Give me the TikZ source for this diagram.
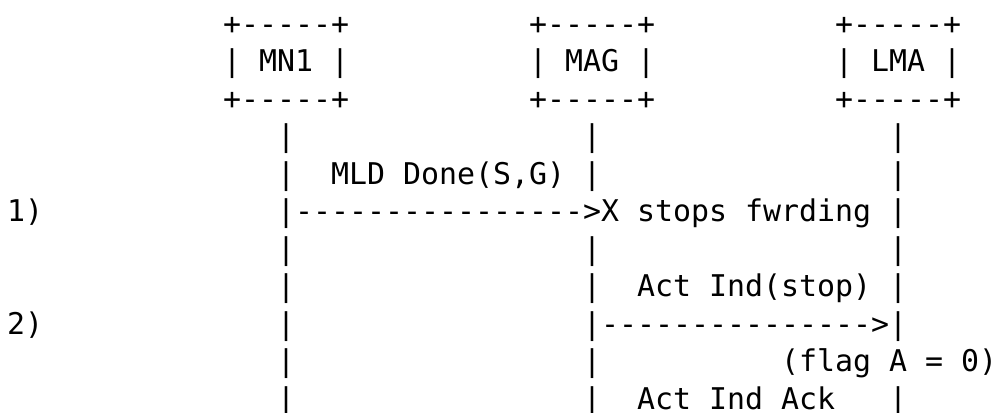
\documentclass[tikz,border=0pt]{standalone}
\usepackage{fontspec}
\setmonofont{DejaVu Sans Mono}
\usetikzlibrary{positioning}

\begin{document}
\begin{tikzpicture}[
        x=13.5pt,
        y=-28.125pt,
        ascii/.style={
            anchor=base west,
            inner sep=0pt,
            outer sep=0pt,
            font=\ttfamily\fontsize{22.43}{28.125}\selectfont
        },
        entity/.style={ascii},
        lifeline/.style={ascii},
        message/.style={ascii}
    ]
    \useasboundingbox (-0.389,-0.92) rectangle (55,10.093);

    % Entities at the top
    \node[entity] (mn1top) at (12,0) {+-----+};
    \node[entity] (mn1) at (12,1) {| MN1 |};
    \node[entity] (mn1bot) at (12,2) {+-----+};
    \node[entity] (magtop) at (29,0) {+-----+};
    \node[entity] (mag) at (29,1) {| MAG |};
    \node[entity] (magbot) at (29,2) {+-----+};
    \node[entity] (lmatop) at (46,0) {+-----+};
    \node[entity] (lma) at (46,1) {| LMA |};
    \node[entity] (lmabot) at (46,2) {+-----+};

    % Lifelines below each entity
    \foreach \r in {3,...,10}
        \node[lifeline] (mn1line\r) at (15,\r) {|};
    \foreach \r in {3,4,6,7,8,9,10}
        \node[lifeline] (magline\r) at (32,\r) {|};
    \foreach \r in {3,4,5,6,7,8,10}
        \node[lifeline] (lmaline\r) at (49,\r) {|};

    % Step numbers
    \node[ascii] (step1) at (0,5) {1)};
    \node[ascii] (step2) at (0,8) {2)};

    % Messages and notes
    \node[message] (done) at (18,4) {MLD Done(S,G)};
    \node[message] (msg1) at (16,5) {---------------->X stops fwrding};
    \node[message] (actind) at (35,7) {Act Ind(stop)};
    \node[message] (msg2) at (33,8) {--------------->};
    \node[message] (flag) at (43,9) {(flag A = 0)};
    \node[message] (ack) at (35,10) {Act Ind Ack};

\end{tikzpicture}
\end{document}
